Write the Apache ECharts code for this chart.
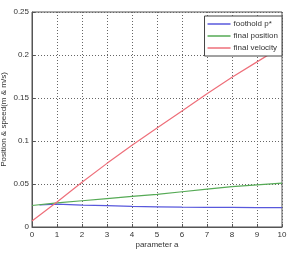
<!DOCTYPE html>
<html>
<head>
<meta charset="utf-8">
<script src="https://cdn.jsdelivr.net/npm/echarts@6/dist/echarts.min.js"></script>
<style>
  html, body { margin: 0; padding: 0; background: #fff; }
  #chart { width: 290px; height: 254px; }
</style>
</head>
<body>
<div id="chart"></div>
<script>
// parameter a values
var aFoothold = [0.3, 1, 2, 3, 4, 5, 6, 7, 8, 9, 10];
var aFinal = [0, 1, 2, 3, 4, 5, 6, 7, 8, 9, 10];
// series values
var foothold = [0.0256, 0.0266, 0.0255, 0.0248, 0.024, 0.0235, 0.023, 0.0228, 0.0228, 0.0226, 0.0226];
var finalPosition = [0.025, 0.028, 0.0305, 0.033, 0.0355, 0.038, 0.041, 0.044, 0.047, 0.049, 0.051];
var finalVelocity = [0.007, 0.029, 0.052, 0.074, 0.095, 0.115, 0.135, 0.155, 0.174, 0.192, 0.21];
var seriesNames = ['foothold p*', 'final position', 'final velocity'];
var colors = ['#5858dc', '#55aa55', '#ee6f7a'];

function pairs(xs, ys) {
  return xs.map(function (x, i) { return [x, ys[i]] })
}

var chart = echarts.init(document.getElementById('chart'), null, { renderer: 'canvas' });
var font = 'Liberation Sans';
var option = {
  animation: false,
  color: colors,
  textStyle: { fontFamily: font },
  grid: {
    left: 32, right: 8, top: 12, bottom: 27,
    outerBoundsMode: 'none',
    containLabel: false,
    show: true, borderColor: '#555', borderWidth: 1, backgroundColor: '#fff'
  },
  legend: {
    data: seriesNames,
    orient: 'vertical',
    right: 8, top: 16,
    backgroundColor: '#fff',
    borderColor: '#444', borderWidth: 1,
    padding: [4, 4, 4, 3],
    itemGap: 4,
    itemWidth: 23, itemHeight: 1.5,
    icon: 'rect',
    textStyle: { fontSize: 8, color: '#333', fontFamily: font, padding: [0, 0, 0, -2] }
  },
  xAxis: {
    type: 'value',
    min: 0, max: 10, interval: 1,
    name: 'parameter a',
    nameLocation: 'middle',
    nameGap: 14,
    nameMoveOverlap: false,
    nameTextStyle: { fontSize: 8, color: '#333' },
    axisLine: { show: true, lineStyle: { color: '#555' } },
    axisTick: { inside: true, length: 3, lineStyle: { color: '#555' } },
    axisLabel: { fontSize: 8, color: '#333', margin: 4 },
    splitLine: { show: true, lineStyle: { color: '#666', type: [1, 2], width: 1 } }
  },
  yAxis: {
    type: 'value',
    min: 0, max: 0.25, interval: 0.05,
    name: 'Position & speed(m & m/s)',
    nameLocation: 'middle',
    nameGap: 24,
    nameMoveOverlap: false,
    nameTextStyle: { fontSize: 8, color: '#333' },
    axisLine: { show: true, lineStyle: { color: '#555' } },
    axisTick: { inside: true, length: 3, lineStyle: { color: '#555' } },
    axisLabel: { fontSize: 8, color: '#333', margin: 3 },
    splitLine: { show: true, lineStyle: { color: '#666', type: [1, 2], width: 1 } }
  },
  series: [
    {
      name: seriesNames[0], type: 'line', symbol: 'none',
      lineStyle: { width: 1.2, color: colors[0] },
      data: pairs(aFoothold, foothold)
    },
    {
      name: seriesNames[1], type: 'line', symbol: 'none',
      lineStyle: { width: 1.2, color: colors[1] },
      data: pairs(aFinal, finalPosition)
    },
    {
      name: seriesNames[2], type: 'line', symbol: 'none',
      lineStyle: { width: 1.2, color: colors[2] },
      data: pairs(aFinal, finalVelocity)
    }
  ]
};
chart.setOption(option);
</script>
</body>
</html>
